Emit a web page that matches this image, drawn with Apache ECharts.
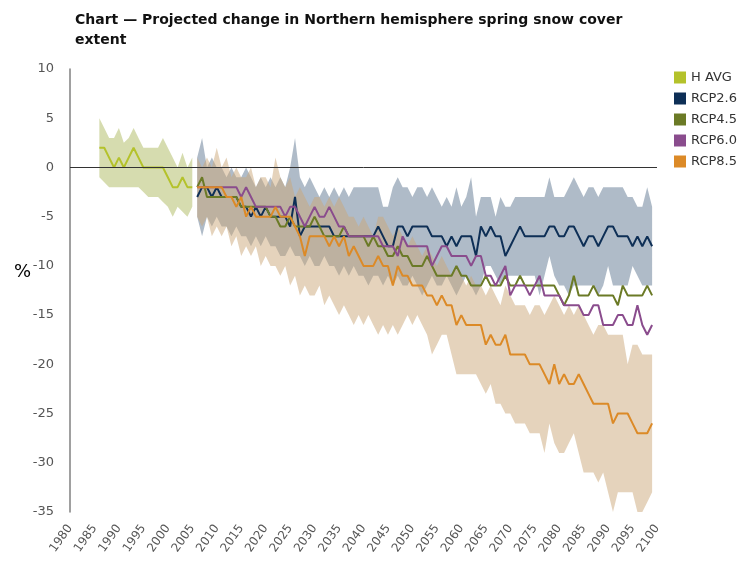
<!DOCTYPE html>
<html>
<head>
<meta charset="utf-8">
<title>Projected change in Northern hemisphere spring snow cover extent</title>
<script src="https://cdn.jsdelivr.net/npm/echarts@6/dist/echarts.min.js"></script>
<style>
  html, body { margin: 0; padding: 0; background: #fff; }
  #chart { width: 744px; height: 562px; }
</style>
</head>
<body>
<div id="chart"></div>
<script>
// x categories: every year, labelled every 5 years
const years = [];
for (let y = 1980; y <= 2100; y++) years.push(String(y));

// historical average 1986-2005 (line and range)
const hStart = 1986;
const hAvg = [2, 2, 1, 0, 1, 0, 1, 2, 1, 0, 0, 0, 0, 0, -1, -2, -2, -1, -2, -2];
const hHigh = [5, 4, 3, 3, 4, 2.5, 3, 4, 3, 2, 2, 2, 2, 3, 2, 1, 0, 1.5, 0, 1];
const hLow = [-1, -1.5, -2, -2, -2, -2, -2, -2, -2, -2.5, -3, -3, -3, -3.5, -4, -5, -4, -4.5, -5, -4];

// projections 2006-2099
const rcpStart = 2006;
const rcp26 = [
  -3, -2, -2, -3,
  -2, -3, -3, -3, -3, -4, -4, -5, -4, -5,
  -4, -5, -5, -5, -5, -6, -3, -7, -6, -6,
  -6, -6, -6, -6, -7, -7, -7, -7, -7, -7,
  -7, -7, -7, -6, -7, -8, -8, -6, -6, -7,
  -6, -6, -6, -6, -7, -7, -7, -8, -7, -8,
  -7, -7, -7, -9, -6, -7, -6, -7, -7, -9,
  -8, -7, -6, -7, -7, -7, -7, -7, -6, -6,
  -7, -7, -6, -6, -7, -8, -7, -7, -8, -7,
  -6, -6, -7, -7, -7, -8, -7, -8, -7, -8,
];
const rcp45 = [
  -2, -1, -3, -3,
  -3, -3, -3, -3, -3, -4, -4, -4, -4, -4,
  -4, -5, -5, -6, -6, -5, -6, -6, -6, -6,
  -5, -6, -7, -7, -7, -7, -6, -7, -7, -7,
  -7, -8, -7, -8, -8, -9, -9, -8, -9, -9,
  -10, -10, -10, -9, -10, -11, -11, -11, -11, -10,
  -11, -11, -12, -12, -12, -11, -12, -12, -12, -11,
  -12, -12, -11, -12, -12, -12, -12, -12, -12, -12,
  -13, -14, -13, -11, -13, -13, -13, -12, -13, -13,
  -13, -13, -14, -12, -13, -13, -13, -13, -12, -13,
];
const rcp60 = [
  -2, -2, -2, -2,
  -2, -2, -2, -2, -2, -3, -2, -3, -4, -4,
  -4, -4, -4, -4, -5, -4, -4, -5, -6, -5,
  -4, -5, -5, -4, -5, -6, -6, -7, -7, -7,
  -7, -7, -7, -7, -8, -8, -8, -9, -7, -8,
  -8, -8, -8, -8, -10, -9, -8, -8, -9, -9,
  -9, -9, -10, -9, -9, -11, -11, -12, -11, -10,
  -13, -12, -12, -12, -13, -12, -11, -13, -13, -13,
  -13, -14, -14, -14, -14, -15, -15, -14, -14, -16,
  -16, -16, -15, -15, -16, -16, -14, -16, -17, -16,
];
const rcp85 = [
  -2, -2, -2, -2,
  -2, -2, -3, -3, -4, -3, -5, -4, -5, -5,
  -5, -5, -4, -5, -5, -5, -6, -7, -9, -7,
  -7, -7, -7, -8, -7, -8, -7, -9, -8, -9,
  -10, -10, -10, -9, -10, -10, -12, -10, -11, -11,
  -12, -12, -12, -13, -13, -14, -13, -14, -14, -16,
  -15, -16, -16, -16, -16, -18, -17, -18, -18, -17,
  -19, -19, -19, -19, -20, -20, -20, -21, -22, -20,
  -22, -21, -22, -22, -21, -22, -23, -24, -24, -24,
  -24, -26, -25, -25, -25, -26, -27, -27, -27, -26,
];

// ranges shown as shaded bands (RCP2.6 and RCP8.5)
const rcp26High = [
  1, 3, 0, 1,
  0, 0, -1, 0, -1, -1, 0, -1, -2, -1,
  -2, -1, -2, -1, -2, 0, 3, -1, -2, -1,
  -2, -3, -2, -3, -2, -3, -2, -3, -2, -2,
  -2, -2, -2, -2, -4, -4, -2, -1, -2, -2,
  -3, -2, -2, -3, -2, -3, -4, -3, -4, -2,
  -4, -3, -1, -5, -3, -3, -3, -5, -3, -4,
  -4, -3, -3, -3, -3, -3, -3, -3, -1, -3,
  -3, -3, -2, -1, -2, -3, -2, -2, -3, -2,
  -2, -2, -2, -2, -3, -3, -4, -4, -2, -4,
];
const rcp26Low = [
  -5, -7, -5, -6,
  -5, -6, -6, -7, -6, -7, -7, -8, -7, -8,
  -7, -8, -8, -9, -9, -8, -9, -9, -10, -9,
  -10, -10, -9, -10, -10, -11, -10, -11, -10, -11,
  -11, -12, -11, -11, -12, -11, -12, -11, -12, -12,
  -11, -12, -13, -12, -11, -12, -12, -11, -12, -13,
  -12, -11, -12, -13, -12, -10, -10, -11, -12, -11,
  -11, -11, -11, -11, -11, -11, -13, -11, -9, -11,
  -12, -12, -13, -12, -12, -12, -12, -12, -13, -12,
  -10, -12, -12, -12, -12, -10, -11, -12, -12, -12,
];
const rcp85High = [
  1, 0, 1, 0,
  2, 0, 1, -1, 0, -1, -1, 0, -2, -1,
  -1, -2, 1, -1, -2, -1, -3, -2, -3, -4,
  -3, -3, -4, -3, -4, -3, -4, -5, -5, -6,
  -5, -6, -7, -5, -5, -6, -7, -6, -7, -8,
  -7, -8, -9, -8, -9, -10, -9, -10, -11, -10,
  -11, -12, -11, -12, -12, -13, -12, -13, -14, -12,
  -13, -14, -14, -14, -15, -14, -14, -15, -14, -13,
  -14, -15, -14, -15, -14, -15, -16, -17, -16, -16,
  -17, -17, -17, -17, -20, -18, -18, -19, -19, -19,
];
const rcp85Low = [
  -5, -6, -5, -7,
  -6, -7, -6, -8, -7, -9, -8, -9, -8, -10,
  -9, -10, -10, -11, -10, -12, -11, -13, -12, -13,
  -13, -12, -14, -13, -14, -15, -14, -15, -16, -15,
  -16, -15, -16, -17, -16, -17, -16, -17, -16, -15,
  -16, -15, -16, -17, -19, -18, -17, -17, -19, -21,
  -21, -21, -21, -21, -22, -23, -22, -24, -24, -25,
  -25, -26, -26, -26, -27, -27, -27, -29, -26, -28,
  -29, -29, -28, -27, -29, -31, -31, -31, -32, -31,
  -33, -35, -33, -33, -33, -33, -35, -35, -34, -33,
];

// put a run of yearly values onto the full year axis
const onAxis = (start, values) =>
  years.map((y) => {
    const i = Number(y) - start;
    return i >= 0 && i < values.length ? values[i] : "-";
  });

// a band = invisible lower line + stacked (high - low) area
const band = (id, start, high, low, color) => [
  {
    name: id + "-low",
    type: "line",
    stack: id,
    stackStrategy: "all",
    data: onAxis(start, low),
    symbol: "none",
    lineStyle: { opacity: 0 },
    silent: true,
    z: 1,
  },
  {
    name: id + "-range",
    type: "line",
    stack: id,
    stackStrategy: "all",
    data: onAxis(start, high.map((v, i) => v - low[i])),
    symbol: "none",
    lineStyle: { opacity: 0 },
    areaStyle: { color: color, opacity: 1 },
    silent: true,
    z: 1,
  },
];

const line = (name, start, values, color) => ({
  name: name,
  type: "line",
  data: onAxis(start, values),
  color: color,
  symbol: "none",
  lineStyle: { width: 2, color: color },
  z: 3,
});

const chart = echarts.init(document.getElementById("chart"));
const font = "DejaVu Sans";

const hLine = line("H AVG", hStart, hAvg, "#b4c22b");
// zero reference line
hLine.markLine = {
  silent: true,
  symbol: "none",
  label: { show: false },
  lineStyle: { color: "#333", width: 1, type: "solid" },
  data: [{ yAxis: 0 }],
};

chart.setOption({
  animation: false,
  title: {
    text: "Chart \u2014 Projected change in Northern hemisphere spring snow cover\nextent",
    left: 70,
    top: 5,
    textStyle: {
      fontFamily: font,
      fontWeight: "bold",
      fontSize: 14,
      lineHeight: 20,
      color: "#111",
    },
  },
  legend: {
    orient: "vertical",
    left: 669,
    top: 66,
    icon: "rect",
    itemWidth: 12,
    itemHeight: 12,
    itemGap: 8,
    data: ["H AVG", "RCP2.6", "RCP4.5", "RCP6.0", "RCP8.5"],
    textStyle: { fontFamily: font, fontSize: 13, color: "#333" },
  },
  grid: { left: 70, right: 87, top: 69, bottom: 50 },
  xAxis: {
    type: "category",
    data: years,
    boundaryGap: false,
    axisLine: { show: false },
    axisTick: { show: false },
    axisLabel: {
      interval: 4,
      rotate: 55,
      margin: 14,
      fontFamily: font,
      fontSize: 12,
      color: "#555",
    },
  },
  yAxis: {
    type: "value",
    min: -35,
    max: 10,
    interval: 5,
    axisLine: { show: true, lineStyle: { color: "#808080", width: 1.5 } },
    axisTick: { show: false },
    splitLine: { show: false },
    axisLabel: { margin: 16, fontFamily: font, fontSize: 13, color: "#555" },
  },
  graphic: [
    {
      type: "text",
      left: 14,
      top: 263,
      style: { text: "%", fontFamily: font, fontSize: 18, fill: "#000" },
    },
  ],
  series: [
    ...band("h", hStart, hHigh, hLow, "rgba(180,192,110,0.55)"),
    ...band("r26", rcpStart, rcp26High, rcp26Low, "rgba(95,120,145,0.5)"),
    ...band("r85", rcpStart, rcp85High, rcp85Low, "rgba(203,167,121,0.5)"),
    hLine,
    line("RCP2.6", rcpStart, rcp26, "#0e2f56"),
    line("RCP4.5", rcpStart, rcp45, "#6b7a26"),
    line("RCP6.0", rcpStart, rcp60, "#8a4c8d"),
    line("RCP8.5", rcpStart, rcp85, "#dc8a27"),
  ],
});
</script>
</body>
</html>
